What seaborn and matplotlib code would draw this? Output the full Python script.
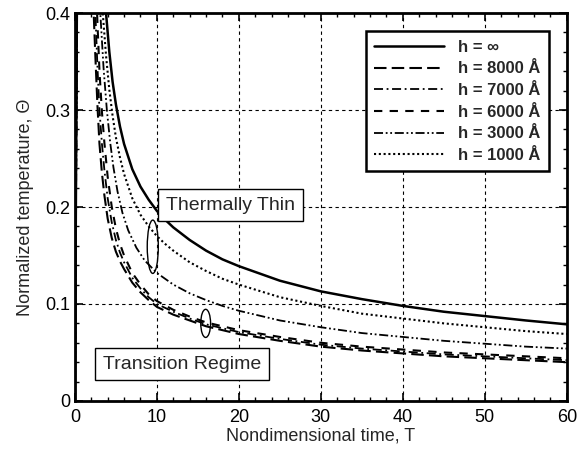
import matplotlib
matplotlib.use("Agg")
import matplotlib.pyplot as plt
from matplotlib.patches import Ellipse
from matplotlib.ticker import MultipleLocator
import seaborn as sns

# values (the sharp rise near T = 0 leaves the frame)
t_inf = [0, 0.3, 1.0, 2.5, 3.4, 3.8, 4.2, 4.6, 5.0, 5.5, 6, 7, 8, 9, 10, 11, 12, 14, 16, 18,
         20, 25, 30, 35, 40, 45, 50, 55, 60]
th_inf = [0, 0.5, 0.9, 0.6, 0.453, 0.4, 0.36, 0.329, 0.306, 0.283, 0.265, 0.239, 0.221, 0.2075,
          0.196, 0.187, 0.179, 0.166, 0.155, 0.146, 0.139, 0.124, 0.113, 0.105, 0.098, 0.092,
          0.0875, 0.083, 0.079]

t_1000 = [0, 0.3, 1.0, 2.3, 3.0, 3.4, 3.8, 4.2, 4.6, 5.0, 5.5, 6, 7, 8, 9, 10, 11, 12, 14, 16,
          18, 20, 25, 30, 35, 40, 45, 50, 55, 60]
th_1000 = [0, 0.5, 0.85, 0.6, 0.457, 0.4, 0.356, 0.321, 0.294, 0.272, 0.251, 0.234, 0.209, 0.192,
           0.18, 0.17, 0.162, 0.155, 0.143, 0.134, 0.126, 0.12, 0.107, 0.098, 0.09, 0.085, 0.08,
           0.076, 0.072, 0.069]

t_3000 = [0, 0.3, 1.0, 2.0, 2.7, 3.1, 3.5, 3.9, 4.3, 4.7, 5.2, 5.8, 6.5, 7.5, 8.5, 10, 12, 14,
          16, 18, 20, 25, 30, 35, 40, 45, 50, 55, 60]
th_3000 = [0, 0.5, 0.8, 0.6, 0.474, 0.4, 0.343, 0.3, 0.267, 0.241, 0.216, 0.194, 0.176, 0.158,
           0.145, 0.132, 0.12, 0.111, 0.104, 0.098, 0.093, 0.083, 0.076, 0.07, 0.066, 0.062,
           0.059, 0.056, 0.054]

t_cluster = [0, 0.3, 1.0, 1.6, 2.2, 2.5, 2.75, 3.0, 3.3, 3.6, 4.0, 4.5, 5.0, 5.5, 6, 7, 8, 9, 10,
             12, 14, 16, 18, 20, 25, 30, 35, 40, 45, 50, 55, 60]
th_6000 = [0, 0.5, 0.75, 0.6, 0.53, 0.45, 0.39, 0.34, 0.298, 0.266, 0.231, 0.2, 0.178, 0.162,
           0.15, 0.132, 0.12, 0.11, 0.103, 0.094, 0.087, 0.081, 0.077, 0.073, 0.066, 0.06, 0.056,
           0.053, 0.05, 0.048, 0.046, 0.044]
th_7000 = [0, 0.5, 0.75, 0.6, 0.47, 0.4, 0.345, 0.3, 0.265, 0.238, 0.209, 0.184, 0.166, 0.153,
           0.143, 0.127, 0.116, 0.107, 0.1, 0.092, 0.085, 0.079, 0.075, 0.071, 0.064, 0.058,
           0.054, 0.051, 0.048, 0.046, 0.044, 0.042]
th_8000 = [0, 0.5, 0.75, 0.55, 0.42, 0.355, 0.305, 0.265, 0.235, 0.212, 0.188, 0.168, 0.154,
           0.144, 0.136, 0.122, 0.112, 0.104, 0.097, 0.089, 0.083, 0.077, 0.073, 0.069, 0.062,
           0.056, 0.052, 0.049, 0.046, 0.044, 0.042, 0.04]

x_ticks = [0, 10, 20, 30, 40, 50, 60]
y_ticks = [0, 0.1, 0.2, 0.3, 0.4]
y_tick_labels = ["0", "0.1", "0.2", "0.3", "0.4"]

series = [
    ("h = \u221e", t_inf, th_inf, "-", 1.8),
    ("h = 8000 \u00c5", t_cluster, th_8000, (0, (6, 2.5)), 1.5),
    ("h = 7000 \u00c5", t_cluster, th_7000, (0, (5, 2, 1, 2)), 1.3),
    ("h = 6000 \u00c5", t_cluster, th_6000, (0, (4, 3.5)), 1.5),
    ("h = 3000 \u00c5", t_3000, th_3000, (0, (5, 1.5, 1, 1.5, 1, 1.5)), 1.3),
    ("h = 1000 \u00c5", t_1000, th_1000, (0, (1, 1.3)), 1.5),
]

sns.set_theme(style="ticks")
plt.rcParams["font.family"] = ["Liberation Sans", "DejaVu Sans"]

fig = plt.figure(figsize=(5.85, 4.51), dpi=100)
ax = fig.add_axes([0.128, 0.111, 0.841, 0.860])

for label, t, th, ls, lw in series:
    sns.lineplot(x=t, y=th, ax=ax, color="black", linestyle=ls, linewidth=lw,
                 label=label, estimator=None, sort=False)

ax.set_xlim(0, 60)
ax.set_ylim(0, 0.4)
ax.set_xticks(x_ticks)
ax.set_yticks(y_ticks)
ax.set_yticklabels(y_tick_labels)
ax.xaxis.set_minor_locator(MultipleLocator(2))
ax.yaxis.set_minor_locator(MultipleLocator(0.02))
ax.tick_params(which="both", direction="in", top=True, right=True, colors="black", labelsize=13)
ax.tick_params(which="major", length=6, width=1.2)
ax.tick_params(which="minor", length=3, width=1)
ax.tick_params(axis="x", pad=6)
ax.grid(True, which="major", color="black", linestyle=(0, (3, 3)), linewidth=0.8)
for sp in ax.spines.values():
    sp.set_linewidth(2)
    sp.set_color("black")

ax.set_xlabel("Nondimensional time, T", fontsize=13, labelpad=1)
ax.set_ylabel("Normalized temperature, \u0398", fontsize=13, labelpad=8)

leg = ax.legend(loc="upper right", fancybox=False, framealpha=1, edgecolor="black",
                prop={"weight": "bold", "size": 12}, handlelength=4.2,
                labelspacing=0.4, borderaxespad=1.1, handletextpad=0.8, borderpad=0.5)
leg.get_frame().set_linewidth(1.8)

box = dict(boxstyle="square,pad=0.4", facecolor="white", edgecolor="black", linewidth=1)
ax.text(19.0, 0.202, "Thermally Thin", fontsize=14, ha="center", va="center", bbox=box, zorder=5)
ax.text(13.1, 0.038, "Transition Regime", fontsize=14, ha="center", va="center", bbox=box, zorder=5)

ax.add_patch(Ellipse((9.5, 0.159), 1.35, 0.055, fill=False, edgecolor="black", linewidth=1, zorder=6))
ax.add_patch(Ellipse((15.95, 0.080), 1.2, 0.029, fill=False, edgecolor="black", linewidth=1, zorder=6))

fig.savefig("out.png", dpi=100)
